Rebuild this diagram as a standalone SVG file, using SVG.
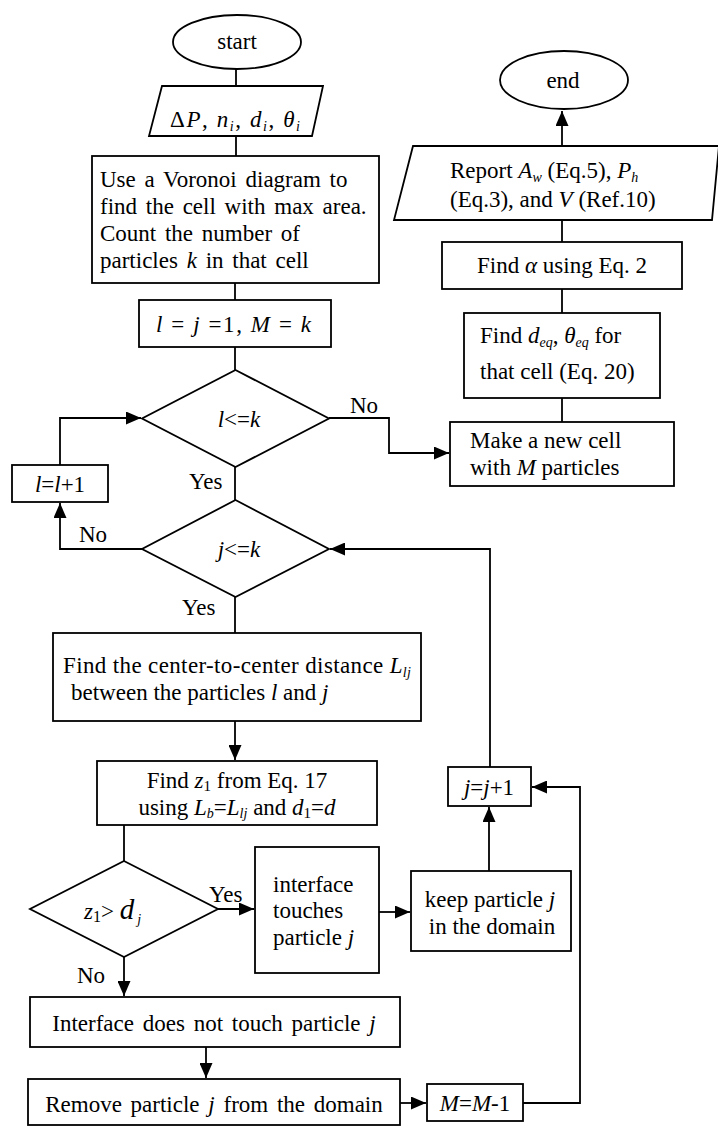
<svg xmlns="http://www.w3.org/2000/svg" width="718" height="1126" viewBox="0 0 718 1126" font-family="'Liberation Serif', 'DejaVu Serif', serif">
<style>
.s{fill:#fff;stroke:#000;stroke-width:1.8}
.c{fill:none;stroke:#000;stroke-width:1.8}
text{font-family:'Liberation Serif','DejaVu Serif',serif;font-size:23px;fill:#000}
.m{text-anchor:middle}
.i{font-style:italic}
.sb{font-size:14px;font-style:italic}
.w{word-spacing:3px}
</style>
<defs>
<marker id="a" markerUnits="userSpaceOnUse" markerWidth="16" markerHeight="13" refX="15" refY="6.5" orient="auto">
<path d="M0,0 L15,6.5 L0,13 Z" fill="#000"/>
</marker>
</defs>
<rect width="718" height="1126" fill="#fff"/>
<g id="connectors">
<line class="c" x1="236" y1="68" x2="236" y2="86"/>
<line class="c" x1="236" y1="136" x2="236" y2="156"/>
<line class="c" x1="235" y1="283" x2="235" y2="300"/>
<line class="c" x1="235" y1="347" x2="235" y2="370"/>
<polyline class="c" points="329,418 389,418 389,453 449,453" marker-end="url(#a)"/>
<line class="c" x1="235" y1="467" x2="235" y2="500"/>
<polyline class="c" points="142,549 60,549 60,503" marker-end="url(#a)"/>
<polyline class="c" points="60,465 60,418 141,418" marker-end="url(#a)"/>
<line class="c" x1="235" y1="597" x2="235" y2="633"/>
<line class="c" x1="235" y1="721" x2="235" y2="760" marker-end="url(#a)"/>
<line class="c" x1="124" y1="825" x2="124" y2="861"/>
<line class="c" x1="218" y1="909" x2="254" y2="909" marker-end="url(#a)"/>
<line class="c" x1="124" y1="957" x2="124" y2="996" marker-end="url(#a)"/>
<line class="c" x1="379" y1="912" x2="410" y2="912" marker-end="url(#a)"/>
<line class="c" x1="489" y1="871" x2="489" y2="807" marker-end="url(#a)"/>
<polyline class="c" points="490,767 490,549 330,549" marker-end="url(#a)"/>
<line class="c" x1="206" y1="1047" x2="206" y2="1078" marker-end="url(#a)"/>
<line class="c" x1="400" y1="1103" x2="426" y2="1103" marker-end="url(#a)"/>
<polyline class="c" points="523,1103 580,1103 580,787 532,787" marker-end="url(#a)"/>
<line class="c" x1="562" y1="422" x2="562" y2="398"/>
<line class="c" x1="562" y1="313" x2="562" y2="289"/>
<line class="c" x1="562" y1="242" x2="562" y2="220"/>
<line class="c" x1="562" y1="146" x2="562" y2="111" marker-end="url(#a)"/>
</g>
<g id="start">
<ellipse class="s" cx="237" cy="42" rx="64" ry="27"/>
<text class="m" x="237" y="49">start</text>
</g>
<g id="input">
<polygon class="s" points="162,86 323,86 312,136 149,136"/>
<text x="170" y="127" textLength="130" lengthAdjust="spacing">Δ<tspan class="i">P</tspan>, <tspan class="i">n</tspan><tspan class="sb" dy="4">i</tspan><tspan dy="-4">, </tspan><tspan class="i">d</tspan><tspan class="sb" dy="4">i</tspan><tspan dy="-4">,  </tspan><tspan class="i">θ</tspan><tspan class="sb" dy="4">i</tspan></text>
</g>
<g id="voronoi">
<rect class="s" x="92" y="156" width="287" height="127"/>
<text class="w" x="100" y="187">Use a Voronoi diagram to</text>
<text class="w" x="100" y="214">find the cell with max area.</text>
<text class="w" x="100" y="241">Count the number of</text>
<text class="w" x="100" y="268">particles <tspan class="i">k</tspan> in that cell</text>
</g>
<g id="init">
<rect class="s" x="139" y="300" width="192" height="47"/>
<text x="156" y="332" textLength="155" lengthAdjust="spacing"><tspan class="i">l</tspan> = <tspan class="i">j</tspan> =1, <tspan class="i">M</tspan> = <tspan class="i">k</tspan></text>
</g>
<g id="cond-l">
<polygon class="s" points="235.5,370 329,418.5 235.5,467 142,418.5"/>
<text class="m" x="239" y="427"><tspan class="i">l</tspan>&lt;=<tspan class="i">k</tspan></text>
<text x="350" y="413">No</text>
<text x="189" y="489">Yes</text>
</g>
<g id="inc-l">
<rect class="s" x="12" y="465" width="96" height="37"/>
<text class="m" x="60" y="492"><tspan class="i">l</tspan>=<tspan class="i">l</tspan>+1</text>
</g>
<g id="cond-j">
<polygon class="s" points="235.5,500 329,549 235.5,597 142,549"/>
<text class="m" x="239" y="557"><tspan class="i">j</tspan>&lt;=<tspan class="i">k</tspan></text>
<text x="79" y="542">No</text>
<text x="182" y="615">Yes</text>
</g>
<g id="distance">
<rect class="s" x="53" y="633" width="368" height="88"/>
<text x="63" y="673" textLength="348" lengthAdjust="spacing">Find the center-to-center  distance <tspan class="i">L</tspan><tspan class="sb" dy="4">lj</tspan></text>
<text x="71" y="700">between the particles <tspan class="i">l</tspan> and <tspan class="i">j</tspan></text>
</g>
<g id="find-z1">
<rect class="s" x="97" y="761" width="280" height="64"/>
<text class="m" x="237" y="788">Find <tspan class="i">z</tspan><tspan font-size="15" dy="3">1</tspan><tspan dy="-3"> from Eq. 17</tspan></text>
<text class="m" x="237" y="815">using <tspan class="i">L</tspan><tspan class="sb" dy="3">b</tspan><tspan dy="-3">=</tspan><tspan class="i">L</tspan><tspan class="sb" dy="3">lj</tspan><tspan dy="-3"> and  </tspan><tspan class="i">d</tspan><tspan font-size="15" dy="3">1</tspan><tspan dy="-3">=</tspan><tspan class="i">d</tspan></text>
</g>
<g id="cond-z">
<polygon class="s" points="124,861 218,909 124,957 30,909"/>
<text x="84" y="919"><tspan class="i">z</tspan><tspan font-size="16" dy="3">1</tspan><tspan dy="-3">&gt; </tspan><tspan class="i" font-size="29">d</tspan><tspan class="sb" dx="3" dy="5">j</tspan></text>
<text x="209" y="902">Yes</text>
<text x="77" y="983">No</text>
</g>
<g id="touches">
<rect class="s" x="255" y="847" width="124" height="126"/>
<text x="273" y="892">interface</text>
<text x="273" y="918">touches</text>
<text x="273" y="945">particle  <tspan class="i">j</tspan></text>
</g>
<g id="keep">
<rect class="s" x="411" y="871" width="160" height="80"/>
<text class="m" x="490" y="907">keep particle <tspan class="i">j</tspan></text>
<text class="m" x="492" y="934">in the domain</text>
</g>
<g id="inc-j">
<rect class="s" x="448" y="767" width="83" height="39"/>
<text class="m" x="489" y="795"><tspan class="i">j</tspan>=<tspan class="i">j</tspan>+1</text>
</g>
<g id="not-touch">
<rect class="s" x="30" y="997" width="370" height="50"/>
<text class="m w" x="214" y="1031">Interface does not touch particle  <tspan class="i">j</tspan></text>
</g>
<g id="remove">
<rect class="s" x="28" y="1079" width="372" height="46"/>
<text class="m w" x="214" y="1112">Remove particle <tspan class="i">j</tspan> from the domain</text>
</g>
<g id="dec-m">
<rect class="s" x="427" y="1084" width="96" height="37"/>
<text class="m" x="475" y="1111"><tspan class="i">M</tspan>=<tspan class="i">M</tspan>-1</text>
</g>
<g id="new-cell">
<rect class="s" x="450" y="422" width="224" height="64"/>
<text x="470" y="448">Make a new cell</text>
<text x="470" y="475">with <tspan class="i">M</tspan> particles</text>
</g>
<g id="equiv">
<rect class="s" x="464" y="313" width="196" height="85"/>
<text x="480" y="343">Find <tspan class="i">d</tspan><tspan class="sb" dy="4">eq</tspan><tspan dy="-4">,  </tspan><tspan class="i">θ</tspan><tspan class="sb" dy="4">eq</tspan><tspan dy="-4">  for</tspan></text>
<text x="480" y="379">that cell (Eq. 20)</text>
</g>
<g id="alpha">
<rect class="s" x="442" y="242" width="240" height="47"/>
<text class="m" x="562" y="273">Find <tspan class="i">α</tspan> using Eq. 2</text>
</g>
<g id="report">
<polygon class="s" points="413,146 719,146 712,220 394,220"/>
<text x="450" y="178">Report <tspan class="i">A</tspan><tspan class="sb" dy="4">w</tspan><tspan dy="-4"> (Eq.5),  </tspan><tspan class="i">P</tspan><tspan class="sb" dy="4">h</tspan></text>
<text x="450" y="207">(Eq.3), and  <tspan class="i">V</tspan> (Ref.10)</text>
</g>
<g id="end">
<ellipse class="s" cx="564" cy="80" rx="64" ry="29"/>
<text class="m" x="563" y="88">end</text>
</g>
</svg>
